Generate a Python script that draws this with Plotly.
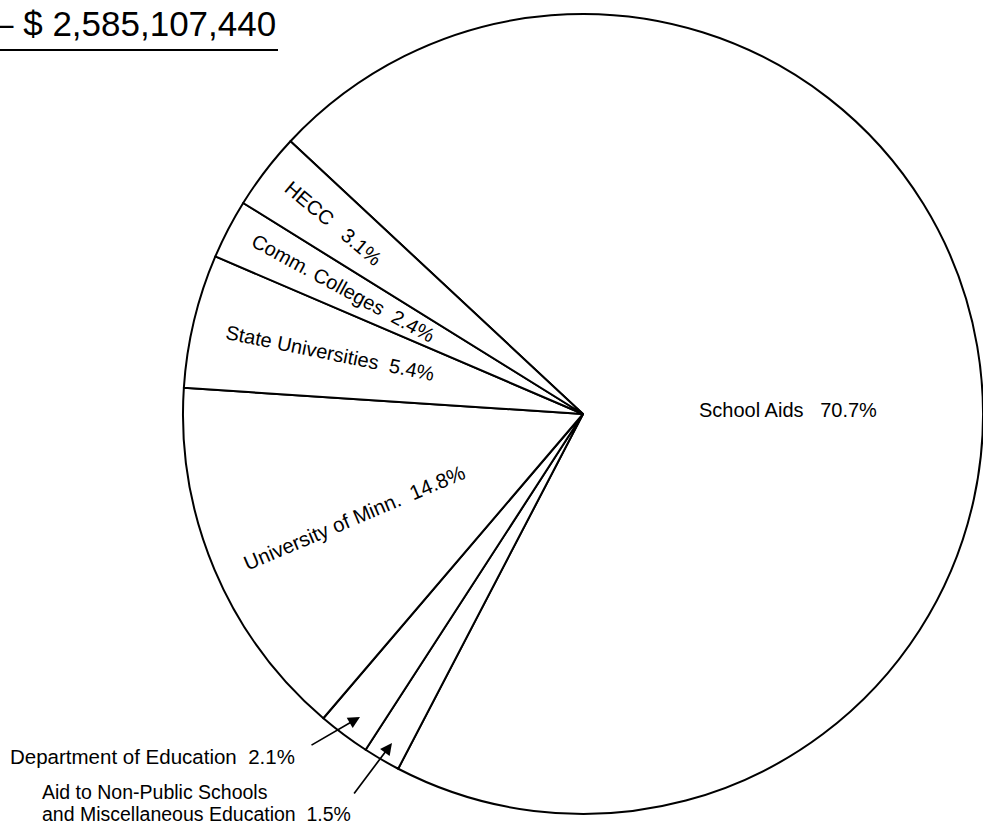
import plotly.graph_objects as go

# Data (clockwise order starting at School Aids)
categories = ["School Aids", "Aid to Non-Public Schools and Miscellaneous Education",
              "Department of Education", "University of Minn.", "State Universities",
              "Comm. Colleges", "HECC"]
percents = [70.7, 1.5, 2.1, 14.8, 5.4, 2.4, 3.1]
total_label = "– $ 2,585,107,440"

FONT = "Liberation Sans, Arial, Helvetica, sans-serif"

fig = go.Figure(go.Pie(
    labels=categories,
    values=percents,
    sort=False,
    direction="clockwise",
    rotation=-47,
    textinfo="none",
    hoverinfo="label+value",
    marker=dict(colors=["white"] * len(categories), line=dict(color="black", width=2)),
    domain=dict(x=[183 / 983, 1.0], y=[13 / 827, 813 / 827]),
    showlegend=False,
))

W, H = 983, 827


def px(x):
    return x / W


def py(y):
    return 1 - y / H


ann = []


def label(text, x, y, angle=0, size=20, xanchor="center", yanchor="middle"):
    ann.append(dict(text=text, x=px(x), y=py(y), xref="paper", yref="paper",
                    showarrow=False, textangle=angle, xanchor=xanchor, yanchor=yanchor,
                    font=dict(family=FONT, size=size, color="black")))


# title total (left part of the heading is outside the page, as in the scan)
ann.append(dict(text=total_label, x=px(278), y=py(24), xref="paper", yref="paper",
                showarrow=False, xanchor="right", yanchor="middle",
                font=dict(family=FONT, size=35, color="black")))

label(f"{categories[6]}   {percents[6]}%", 333, 223, 40)
label(f"{categories[5]}  {percents[5]}%", 343, 288, 28.5)
label(f"{categories[4]}  {percents[4]}%", 330, 353, 11.5)
label(f"{categories[3]}  {percents[3]}%", 354, 517, -23, 20.5)
label(f"{categories[0]}   {percents[0]}%", 788, 410, 0)

label(f"{categories[2]}  {percents[2]}%", 8, 756, 0, 20.5, "left")
label("Aid to Non-Public Schools", 40, 805, 0, 19.5, "left", "bottom")
label(f"and Miscellaneous Education  {percents[1]}%", 40, 827, 0, 19.5, "left", "bottom")

# arrows
for (hx, hy, tx, ty) in [(360, 717, 310, 746), (392, 743, 353, 795)]:
    ann.append(dict(text="", x=px(hx), y=py(hy), xref="paper", yref="paper",
                    ax=tx - hx, ay=ty - hy, axref="pixel", ayref="pixel",
                    showarrow=True, arrowhead=2, arrowsize=1.4, arrowwidth=1.7,
                    arrowcolor="black", standoff=0))

fig.update_layout(
    width=W, height=H,
    margin=dict(l=0, r=0, t=0, b=0),
    paper_bgcolor="white", plot_bgcolor="white",
    annotations=ann,
    shapes=[dict(type="line", xref="paper", yref="paper",
                 x0=0, x1=px(278), y0=py(50), y1=py(50),
                 line=dict(color="black", width=2))],
)

fig.write_html("out.html")
